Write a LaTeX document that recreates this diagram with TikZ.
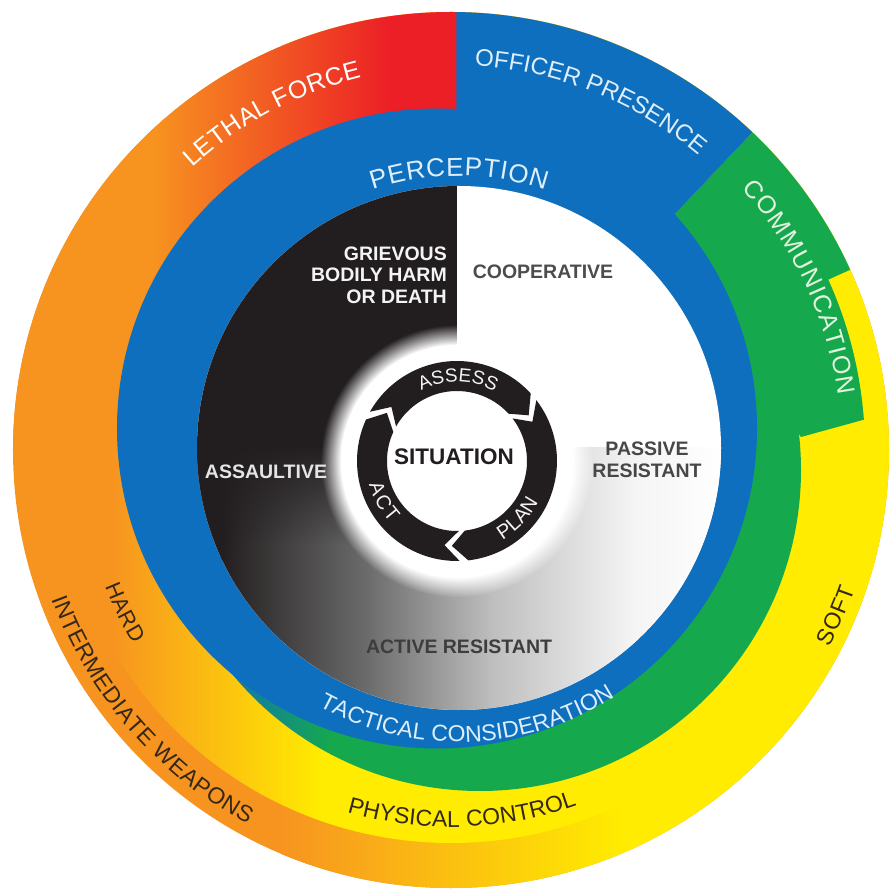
\documentclass[tikz,border=0pt]{standalone}
\usepackage{fontspec}
\setmainfont{Liberation Sans}
\usetikzlibrary{decorations.text,fadings}

\definecolor{forceblue}{RGB}{15,111,191}
\definecolor{forcegreen}{RGB}{22,168,76}
\definecolor{forceyellow}{RGB}{255,236,0}
\definecolor{forceorange}{RGB}{247,148,32}
\definecolor{forcered}{RGB}{236,30,38}
\definecolor{inkblack}{RGB}{34,30,31}
\definecolor{midgrey}{RGB}{110,110,110}
\definecolor{lightgrey}{RGB}{190,190,190}
\definecolor{softwhite}{RGB}{244,244,244}
\definecolor{bandink}{RGB}{52,40,24}
\definecolor{paleblue}{RGB}{222,238,250}
\definecolor{palegreen}{RGB}{226,244,222}

\newcommand{\fsize}[1]{\fontsize{#1}{#1}\selectfont}

\tikzset{
  bandtext/.style={decorate,decoration={text along path,text align={fit to path},text={#1}}},
  quadtext/.style={font=\bfseries\fontsize{19.5}{21.5}\selectfont,inner sep=0pt},
}

\begin{document}
\begin{tikzpicture}[x=1pt,y=1pt,line join=round]
\def\rout{438}
\useasboundingbox (-451,-446) rectangle (438,450);
% intermediate weapons
\begin{scope}
  \clip (0,0) circle (\rout);
  \fill[forceorange] (-440,-440) rectangle (440,440);
  \shade[left color=forceorange,right color=forceyellow] (-170,-440) rectangle (171,440);
  \fill[forceyellow] (170,-440) rectangle (440,440);
\end{scope}
% physical control
\begin{scope}
  \clip (0,0) circle (393);
  \shade[left color=forceorange,right color=forceyellow] (-340,-400) rectangle (-129,400);
  \fill[forceyellow] (-130,-400) rectangle (400,400);
\end{scope}
% lethal force
\begin{scope}
  \clip (0,0) -- (180:\rout) arc[start angle=180,end angle=89,radius=\rout] -- cycle;
  \fill[forceorange] (-440,0) rectangle (-299,440);
  \shade[left color=forceorange,right color=forcered] (-300,0) rectangle (-59,440);
  \fill[forcered] (-60,0) rectangle (12,440);
\end{scope}
% communication
\begin{scope}
  \clip (29,-20) circle (321);
  \fill[forceblue] (-300,-350) rectangle (-239,310);
  \shade[left color=forceblue,right color=forcegreen] (-240,-350) rectangle (-119,310);
  \fill[forcegreen] (-120,-350) rectangle (360,310);
\end{scope}
\fill[forcegreen] (46.5:300) -- (46.5:\rout) arc[start angle=46.5,end angle=24.3,radius=\rout]
  -- (24.3:414) arc[start angle=24.3,end angle=4.2,radius=414] -- (350,13) -- cycle;
% officer presence and perception
\fill[forceblue] (46.5:300) -- (46.5:\rout) arc[start angle=46.5,end angle=89.3,radius=\rout] -- (5.3,300) -- cycle;
\fill[forceblue] (-14,21.5) circle (320);
% subject behaviour
\begin{scope}
  \clip (8,2) circle (262);
  \fill[white] (-260,-262) rectangle (272,266);
  \fill[inkblack] (-260,-262) rectangle (-229,4);
  \shade[left color=inkblack,right color=midgrey] (-230,-262) rectangle (-79,2);
  \shade[left color=midgrey,right color=lightgrey] (-80,-262) rectangle (41,2);
  \shade[left color=lightgrey,right color=softwhite] (40,-262) rectangle (181,2);
  \shade[left color=softwhite,right color=white] (180,-262) rectangle (272,2);
  \fill[inkblack,path fading=south] (-260,-95) rectangle (0,6);
  \fill[inkblack] (-260,2) rectangle (6,266);
\end{scope}
\fill[white,path fading=circle with fuzzy edge 15 percent] (6,-11) circle (136);
\fill[white] (6,-11) circle (116);
% assess - plan - act
\begin{scope}[shift={(6,-11)}]
  \foreach \startgap/\endgap in {148/35, 35/-91, 269/148}{
    \pgfmathsetmacro\ac{\startgap+2.5}
    \pgfmathsetmacro\an{\startgap-7.5}
    \pgfmathsetmacro\bc{\endgap+7.5}
    \pgfmathsetmacro\bt{\endgap-2.5}
    \fill[inkblack] (\ac:100) arc[start angle=\ac,end angle=\bc,radius=100] -- (\bt:85)
      -- (\bc:70) arc[start angle=\bc,end angle=\ac,radius=70] -- (\an:85) -- cycle;
  }
\end{scope}
% ring labels
\path[bandtext={|\fsize{25}\color{white}|LETHAL FORCE}] (132.5:383) arc[start angle=132.5,end angle=103.5,radius=383];
\path[bandtext={|\fsize{24}\color{paleblue}|OFFICER PRESENCE}] (86.5:385) arc[start angle=86.5,end angle=50,radius=385];
\path[bandtext={|\fsize{25}\color{palegreen}|COMMUNICATION}] (42:391) arc[start angle=42,end angle=8,radius=391];
\path[bandtext={|\fsize{23}\color{bandink}|SOFT}] (332.5:427) arc[start angle=332.5,end angle=341,radius=427];
\path[bandtext={|\fsize{23}\color{bandink}|PHYSICAL CONTROL}] (254:377) arc[start angle=254,end angle=289.5,radius=377];
\path[bandtext={|\fsize{23}\color{bandink}|INTERMEDIATE WEAPONS}] (200.5:426) arc[start angle=200.5,end angle=241.5,radius=426];
\path[bandtext={|\fsize{22}\color{bandink}|HARD}] (201.5:372) arc[start angle=201.5,end angle=211.5,radius=372];
\path[shift={(8,2)},bandtext={|\fsize{26}\color{paleblue}|PERCEPTION}] (108.5:272) arc[start angle=108.5,end angle=71.5,radius=272];
\path[shift={(8,2)},bandtext={|\fsize{23}\color{paleblue}|TACTICAL CONSIDERATION}] (241.5:294) arc[start angle=241.5,end angle=302,radius=294];
\path[shift={(6,-11)},bandtext={|\fsize{19}\color{softwhite}|ASSESS}] (117:79) arc[start angle=117,end angle=61.5,radius=79];
\path[shift={(6,-11)},bandtext={|\fsize{20}\color{softwhite}|PLAN}] (300:91) arc[start angle=300,end angle=333,radius=91];
\path[shift={(6,-11)},bandtext={|\fsize{20}\color{softwhite}|ACT}] (195:91) arc[start angle=195,end angle=223,radius=91];
% quadrant labels
\node[quadtext,text=softwhite,align=right,anchor=east] (grievous) at (-4,175) {GRIEVOUS\\BODILY HARM\\OR DEATH};
\node[quadtext,text=black!70] (cooperative) at (92,178) {COOPERATIVE};
\node[quadtext,text=black!10] (assaultive) at (-185,-22) {ASSAULTIVE};
\node[quadtext,text=black!72,align=center] (passive) at (196,-10) {PASSIVE\\RESISTANT};
\node[quadtext,text=black!76] (active) at (8,-197) {ACTIVE RESISTANT};
\node[inner sep=0pt,text=inkblack,font=\bfseries\fsize{22.5}] (situation) at (3,-7) {SITUATION};
\end{tikzpicture}
\end{document}
